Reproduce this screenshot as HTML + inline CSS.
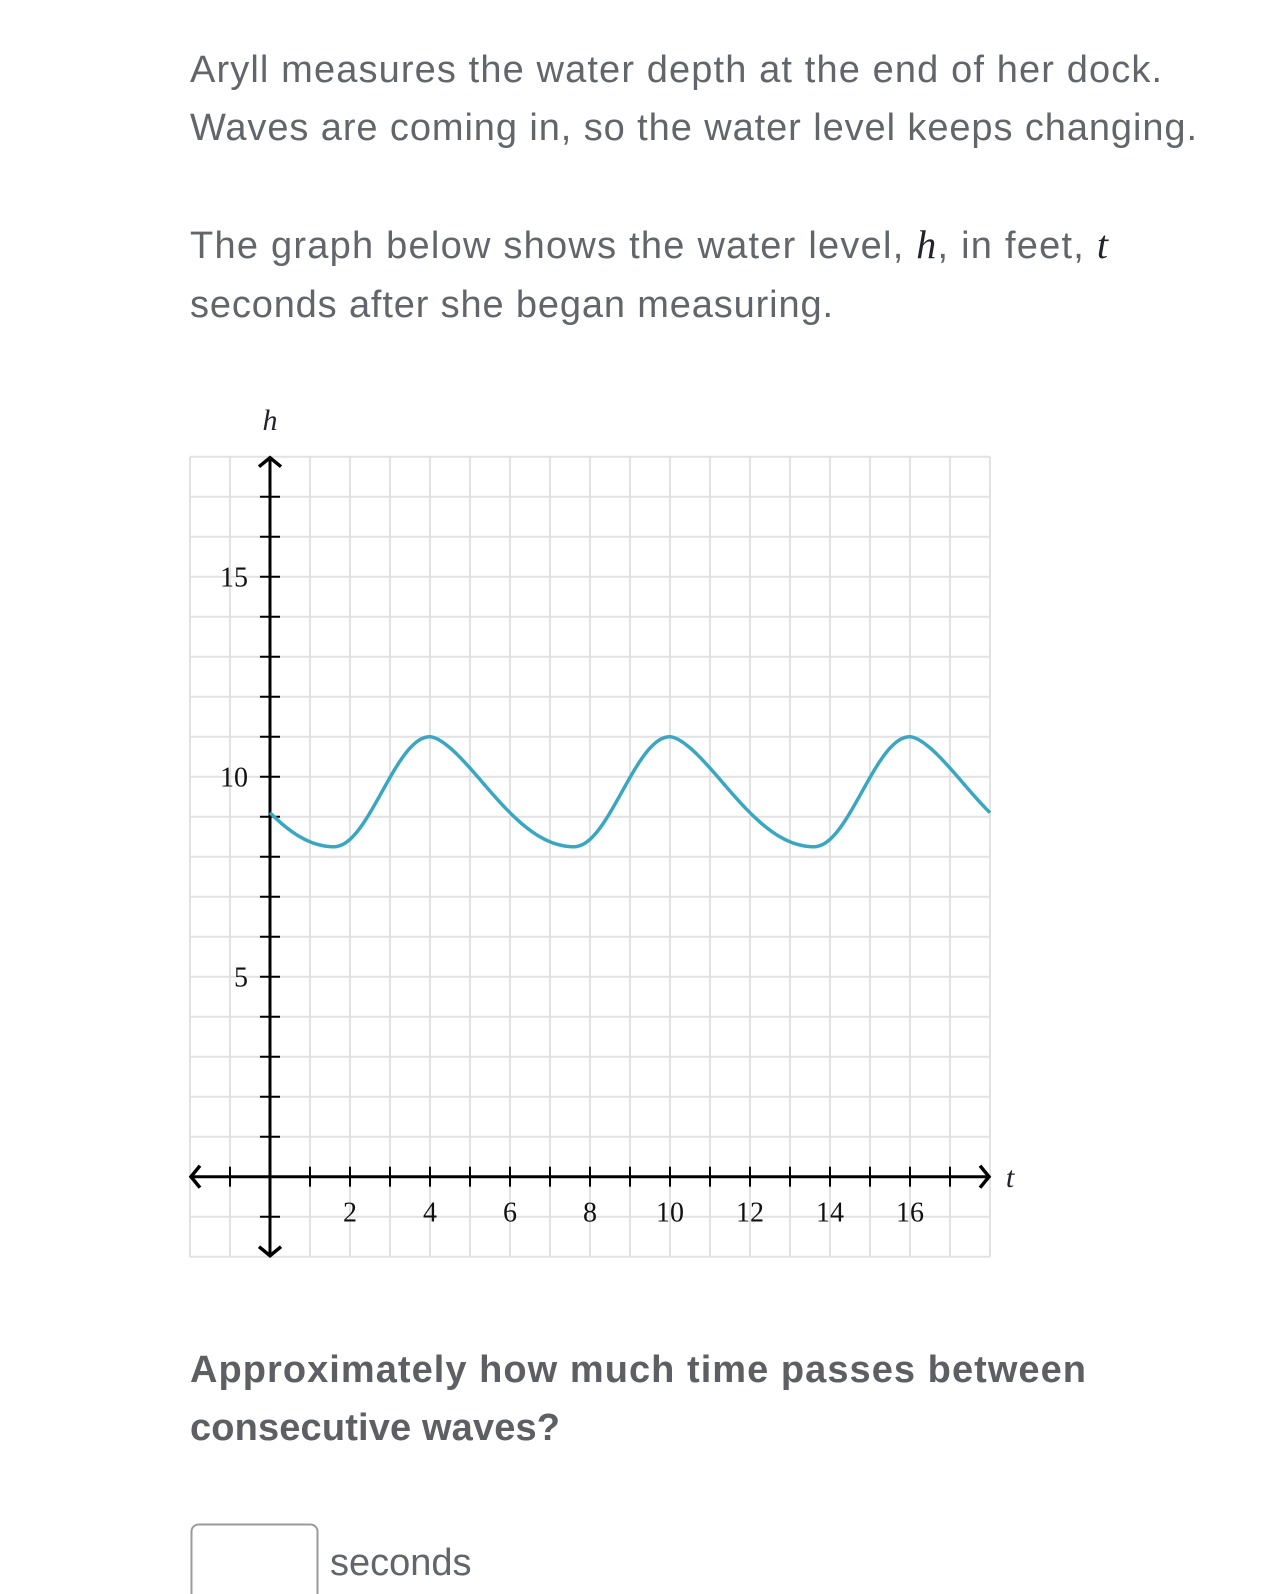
<!DOCTYPE html>
<html><head><meta charset="utf-8"><style>
html,body{margin:0;padding:0;background:#fff;}
svg{display:block;}
.t{font-family:"Liberation Sans",sans-serif;font-size:38px;fill:#626569;}
.b{font-family:"Liberation Sans",sans-serif;font-size:38px;font-weight:bold;fill:#5d5f63;}
.m{font-family:"Liberation Serif",serif;font-style:italic;fill:#21242c;}
.n{font-family:"Liberation Serif",serif;font-size:28px;fill:#111;}
</style></head><body>
<svg id="s" width="1283" height="1594" viewBox="0 0 1283 1594" xmlns="http://www.w3.org/2000/svg">
<defs>
<radialGradient id="sh" cx="1" cy="0.5" r="0.5">
<stop offset="0" stop-color="#e6e6e6"/><stop offset="0.6" stop-color="#f0f0f0"/><stop offset="1" stop-color="#fff" stop-opacity="0"/>
</radialGradient>
</defs>
<rect x="1150" y="420" width="133" height="800" fill="url(#sh)" transform="translate(1283 0) scale(-1 1) translate(-1283 0) scale(1 1)" opacity="0"/>
<ellipse cx="1283" cy="820" rx="100" ry="380" fill="url(#sh)" opacity="0.7"/>
<text class="t" x="190" y="82" textLength="972" lengthAdjust="spacing">Aryll measures the water depth at the end of her dock.</text>
<text class="t" x="190" y="140" textLength="1007" lengthAdjust="spacing">Waves are coming in, so the water level keeps changing.</text>
<text class="t" x="190" y="258" textLength="918" lengthAdjust="spacing">The graph below shows the water level, <tspan class="m" font-size="40">h</tspan>, in feet, <tspan class="m" font-size="40">t</tspan></text>
<text class="t" x="190" y="317" textLength="643" lengthAdjust="spacing">seconds after she began measuring.</text>
<g id="grid" stroke="#e2e2e2" stroke-width="2"></g>
<g id="ax" stroke="#000" stroke-width="3" fill="none"></g>
<path id="curve" fill="none" stroke="#3aa7c2" stroke-width="3.5" stroke-linejoin="round"/>
<text class="m" x="270" y="430" font-size="30" text-anchor="middle">h</text>
<text class="m" x="1010" y="1187" font-size="30" text-anchor="middle">t</text>
<g id="lbl"></g>
<text class="b" x="190" y="1382" textLength="896" lengthAdjust="spacing">Approximately how much time passes between</text>
<text class="b" x="190" y="1440" textLength="370" lengthAdjust="spacing">consecutive waves?</text>
<rect x="191.5" y="1524.5" width="126" height="90" rx="7" fill="#fff" stroke="#9a9a9a" stroke-width="2"/>
<text class="t" x="330" y="1575">seconds</text>
</svg>
<script>
var NS="http://www.w3.org/2000/svg";
function X(t){return 270+40*t;} function Y(h){return 1176.7-40*h;}
function el(p,tag,a){var e=document.createElementNS(NS,tag);for(var k in a)e.setAttribute(k,a[k]);p.appendChild(e);return e;}
var g=document.getElementById('grid');
for(var i=-2;i<=18;i++){el(g,'line',{x1:X(i),y1:Y(18),x2:X(i),y2:Y(-2)});el(g,'line',{x1:X(-2),y1:Y(i),x2:X(18),y2:Y(i)});}
var a=document.getElementById('ax');
el(a,'line',{x1:X(-2)+3,y1:Y(0),x2:X(18)-3,y2:Y(0)});
el(a,'line',{x1:X(0),y1:Y(18)+3,x2:X(0),y2:Y(-2)-3});
el(a,'path',{d:'M'+(X(18)-10)+' '+(Y(0)-11)+' L'+(X(18)-1)+' '+Y(0)+' L'+(X(18)-10)+' '+(Y(0)+11),'stroke-width':'3.5'});
el(a,'path',{d:'M'+(X(-2)+10)+' '+(Y(0)-11)+' L'+(X(-2)+1)+' '+Y(0)+' L'+(X(-2)+10)+' '+(Y(0)+11),'stroke-width':'3.5'});
el(a,'path',{d:'M'+(X(0)-11)+' '+(Y(18)+10)+' L'+X(0)+' '+(Y(18)+1)+' L'+(X(0)+11)+' '+(Y(18)+10),'stroke-width':'3.5'});
el(a,'path',{d:'M'+(X(0)-11)+' '+(Y(-2)-10)+' L'+X(0)+' '+(Y(-2)-1)+' L'+(X(0)+11)+' '+(Y(-2)-10),'stroke-width':'3.5'});
for(var i=-1;i<=17;i++){if(i==0)continue;el(a,'line',{x1:X(i),y1:Y(0)-10,x2:X(i),y2:Y(0)+10,'stroke-width':'2'});}
for(var i=-1;i<=17;i++){if(i==0)continue;el(a,'line',{x1:X(0)-10,y1:Y(i),x2:X(0)+10,y2:Y(i),'stroke-width':'2'});}
var L=document.getElementById('lbl');
for(var i=2;i<=16;i+=2){var tx=el(L,'text',{x:X(i),y:Y(0)+45,'text-anchor':'middle','class':'n'});tx.textContent=i;}
[5,10,15].forEach(function(v){var tx=el(L,'text',{x:X(0)-22,y:Y(v)+10,'text-anchor':'end','class':'n'});tx.textContent=v;});
function f(t){var p=((t-4)%6+6)%6;var th;
 if(p<3.6){var s=p/3.6;th=Math.PI*Math.pow(s,0.8);}else{th=-Math.PI+Math.PI*(p-3.6)/2.4;}
 return 9.625+1.375*Math.cos(th);}
var d='';for(var t=0;t<=18.0001;t+=0.05){d+=(t==0?'M':'L')+X(t).toFixed(1)+' '+Y(f(t)).toFixed(1)+' ';}
document.getElementById('curve').setAttribute('d',d);
</script>
</body></html>
